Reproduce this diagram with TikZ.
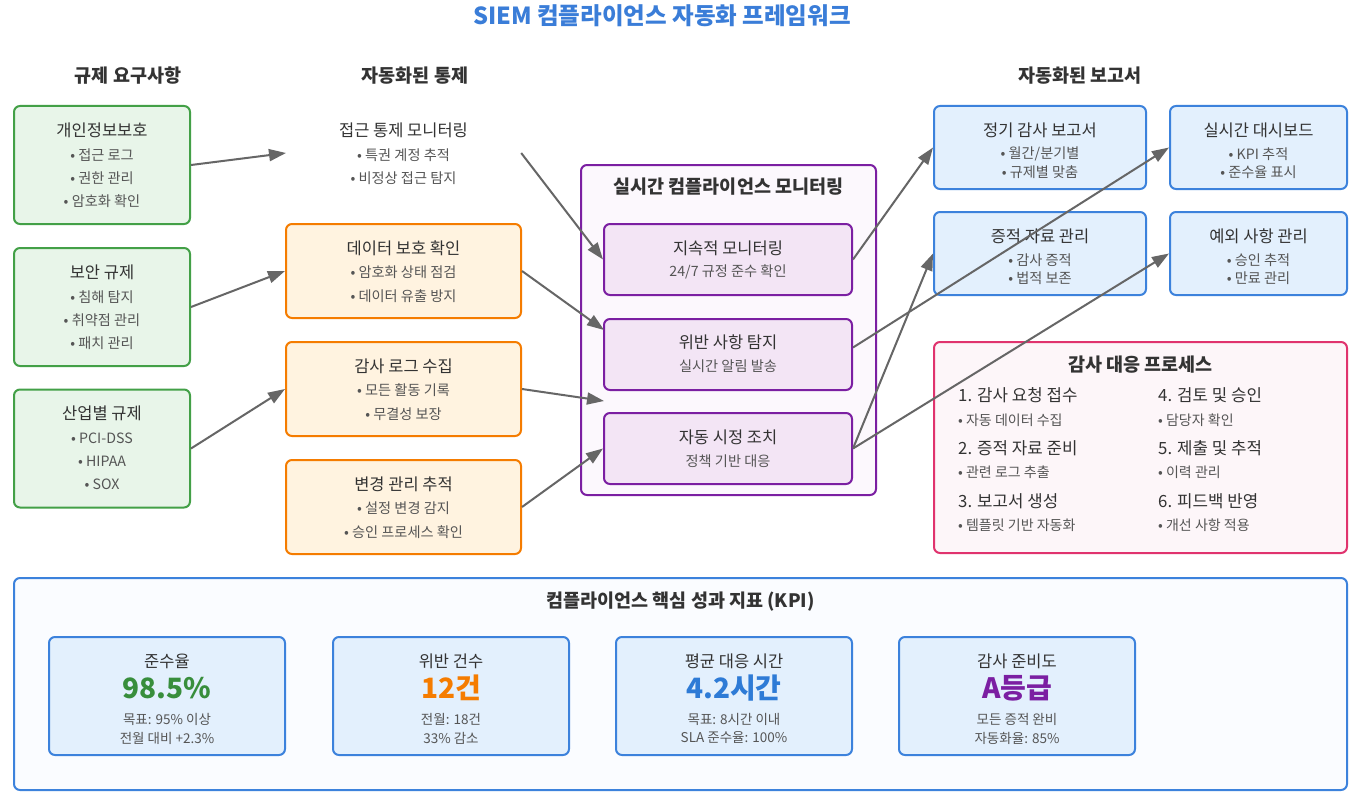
\documentclass[tikz,border=0pt]{standalone}
\usepackage{fontspec}
\setmainfont{Noto Sans CJK KR}
\usetikzlibrary{arrows.meta,calc}
\definecolor{gborder}{HTML}{43A047}
\definecolor{gfill}{HTML}{E8F5E9}
\definecolor{oborder}{HTML}{F57C00}
\definecolor{ofill}{HTML}{FFF3E0}
\definecolor{pborder}{HTML}{7B1FA2}
\definecolor{pfill}{HTML}{F3E5F5}
\definecolor{pouter}{HTML}{FCF8FD}
\definecolor{bborder}{HTML}{3C82DC}
\definecolor{bfill}{HTML}{E3F0FD}
\definecolor{kouter}{HTML}{FAFCFF}
\definecolor{rborder}{HTML}{E0336E}
\definecolor{rfill}{HTML}{FDF6F9}
\definecolor{titleblue}{HTML}{3A7DD8}
\definecolor{txt}{HTML}{333333}
\definecolor{subtxt}{HTML}{555555}
\definecolor{arrowgray}{HTML}{666666}
\definecolor{vgreen}{HTML}{388E3C}
\definecolor{vorange}{HTML}{F57C00}
\definecolor{vblue}{HTML}{2E7BD6}
\definecolor{vpurple}{HTML}{7B1FA2}
\tikzset{
  boxbase/.style={rounded corners=6pt, line width=2pt},
  gbox/.style={boxbase, draw=gborder, fill=gfill, minimum width=176pt, minimum height=118pt},
  obox/.style={boxbase, draw=oborder, fill=ofill, minimum width=235pt, minimum height=94pt},
  pouterbox/.style={boxbase, draw=pborder, fill=pouter, minimum width=295pt, minimum height=330pt},
  pbox/.style={boxbase, draw=pborder, fill=pfill, minimum width=248pt, minimum height=71pt},
  bbox/.style={boxbase, draw=bborder, fill=bfill, minimum height=83pt},
  rbox/.style={boxbase, draw=rborder, fill=rfill, minimum width=413pt, minimum height=211pt},
  kouterbox/.style={boxbase, draw=bborder, fill=kouter, minimum width=1333pt, minimum height=212pt},
  kbox/.style={boxbase, draw=bborder, fill=bfill, minimum width=236pt, minimum height=118pt},
  ttl/.style={text=txt, font=\fontsize{16.5}{18}\selectfont, inner sep=0pt},
  sub/.style={text=subtxt, font=\fontsize{14.2}{16}\selectfont, inner sep=0pt},
  ksub/.style={text=subtxt, font=\fontsize{13.5}{15}\selectfont, inner sep=0pt},
  head/.style={text=txt, font=\fontsize{18.5}{20}\selectfont\bfseries, inner sep=0pt},
  bigttl/.style={text=txt, font=\fontsize{18.5}{20}\selectfont\bfseries, inner sep=0pt},
  step2/.style={text=txt, font=\fontsize{16.8}{18}\selectfont, inner sep=0pt, anchor=west},
  stepsub/.style={text=subtxt, font=\fontsize{14}{16}\selectfont, inner sep=0pt, anchor=west},
  kval/.style={font=\fontsize{28}{30}\selectfont\bfseries, inner sep=0pt},
  arr/.style={draw=arrowgray, line width=2pt, -{Triangle[length=17pt,width=12pt]}},
}
\begin{document}
\begin{tikzpicture}[x=1pt,y=-1pt]
\useasboundingbox[fill=white] (0,0) rectangle (1359,797);

% title
\node[text=titleblue, font=\fontsize{23.5}{25}\selectfont\bfseries, inner sep=0pt] (title) at (662,16) {SIEM 컴플라이언스 자동화 프레임워크};

% column headers
\node[head] (h1) at (128,76) {규제 요구사항};
\node[head] (h2) at (415,76) {자동화된 통제};
\node[head] (h3) at (1080,76) {자동화된 보고서};

% green boxes
\node[gbox] (g1) at (102,165) {};
\node[ttl] (g1t) at (102,130) {개인정보보호};
\node[sub] (g1a) at (102,155) {• 접근 로그};
\node[sub] (g1b) at (102,178) {• 권한 관리};
\node[sub] (g1c) at (102,201) {• 암호화 확인};

\node[gbox] (g2) at (102,307) {};
\node[ttl] (g2t) at (102,272) {보안 규제};
\node[sub] (g2a) at (102,297) {• 침해 탐지};
\node[sub] (g2b) at (102,320) {• 취약점 관리};
\node[sub] (g2c) at (102,343) {• 패치 관리};

\node[gbox] (g3) at (102,448.5) {};
\node[ttl] (g3t) at (102,413) {산업별 규제};
\node[sub] (g3a) at (102,438) {• PCI-DSS};
\node[sub] (g3b) at (102,461) {• HIPAA};
\node[sub] (g3c) at (102,484) {• SOX};

% access control (no box)
\node[minimum width=235pt, minimum height=94pt, inner sep=0pt] (ac) at (403.5,153) {};
\node[ttl] (act) at (403.5,130) {접근 통제 모니터링};
\node[sub] (aca) at (403.5,155) {• 특권 계정 추적};
\node[sub] (acb) at (403.5,178) {• 비정상 접근 탐지};

% orange boxes
\node[obox] (o1) at (403.5,271) {};
\node[ttl] (o1t) at (403.5,248) {데이터 보호 확인};
\node[sub] (o1a) at (403.5,272) {• 암호화 상태 점검};
\node[sub] (o1b) at (403.5,296) {• 데이터 유출 방지};

\node[obox] (o2) at (403.5,389) {};
\node[ttl] (o2t) at (403.5,366) {감사 로그 수집};
\node[sub] (o2a) at (403.5,390) {• 모든 활동 기록};
\node[sub] (o2b) at (403.5,414) {• 무결성 보장};

\node[obox] (o3) at (403.5,507) {};
\node[ttl] (o3t) at (403.5,484) {변경 관리 추적};
\node[sub] (o3a) at (403.5,508) {• 설정 변경 감지};
\node[sub] (o3b) at (403.5,532) {• 승인 프로세스 확인};

% purple monitoring
\node[pouterbox] (pm) at (728.5,330) {};
\node[bigttl] (pmt) at (728.5,187) {실시간 컴플라이언스 모니터링};
\node[pbox] (p1) at (728,259.5) {};
\node[ttl] (p1t) at (728,248) {지속적 모니터링};
\node[sub] (p1s) at (728,272) {24/7 규정 준수 확인};
\node[pbox] (p2) at (728,354.5) {};
\node[ttl] (p2t) at (728,342) {위반 사항 탐지};
\node[sub] (p2s) at (728,366) {실시간 알림 발송};
\node[pbox] (p3) at (728,448.5) {};
\node[ttl] (p3t) at (728,437) {자동 시정 조치};
\node[sub] (p3s) at (728,461) {정책 기반 대응};

% blue report boxes
\node[bbox, minimum width=212pt] (r1) at (1040,147.5) {};
\node[ttl] (r1t) at (1040,130) {정기 감사 보고서};
\node[sub] (r1a) at (1040,154) {• 월간/분기별};
\node[sub] (r1b) at (1040,172) {• 규제별 맞춤};

\node[bbox, minimum width=177pt] (r2) at (1258.5,147.5) {};
\node[ttl] (r2t) at (1258.5,130) {실시간 대시보드};
\node[sub] (r2a) at (1258.5,154) {• KPI 추적};
\node[sub] (r2b) at (1258.5,172) {• 준수율 표시};

\node[bbox, minimum width=212pt] (r3) at (1040,253.5) {};
\node[ttl] (r3t) at (1040,236) {증적 자료 관리};
\node[sub] (r3a) at (1040,260) {• 감사 증적};
\node[sub] (r3b) at (1040,278) {• 법적 보존};

\node[bbox, minimum width=177pt] (r4) at (1258.5,253.5) {};
\node[ttl] (r4t) at (1258.5,236) {예외 사항 관리};
\node[sub] (r4a) at (1258.5,260) {• 승인 추적};
\node[sub] (r4b) at (1258.5,278) {• 만료 관리};

% audit response process
\node[rbox] (ar) at (1140.5,447.5) {};
\node[bigttl] (art) at (1140.5,365) {감사 대응 프로세스};
\node[step2] (s1) at (958,395) {1. 감사 요청 접수};
\node[stepsub] (s1a) at (958,420) {• 자동 데이터 수집};
\node[step2] (s2) at (958,448) {2. 증적 자료 준비};
\node[stepsub] (s2a) at (958,472) {• 관련 로그 추출};
\node[step2] (s3) at (958,501) {3. 보고서 생성};
\node[stepsub] (s3a) at (958,525) {• 템플릿 기반 자동화};
\node[step2] (s4) at (1158,395) {4. 검토 및 승인};
\node[stepsub] (s4a) at (1158,420) {• 담당자 확인};
\node[step2] (s5) at (1158,448) {5. 제출 및 추적};
\node[stepsub] (s5a) at (1158,472) {• 이력 관리};
\node[step2] (s6) at (1158,501) {6. 피드백 반영};
\node[stepsub] (s6a) at (1158,525) {• 개선 사항 적용};

% KPI
\node[kouterbox] (kp) at (680.5,684) {};
\node[bigttl] (kpt) at (680.5,602) {컴플라이언스 핵심 성과 지표 (KPI)};

\node[kbox] (k1) at (167,696) {};
\node[ttl] (k1t) at (167,661) {준수율};
\node[kval, text=vgreen] (k1v) at (167,688) {98.5\%};
\node[ksub] (k1a) at (167,719) {목표: 95\% 이상};
\node[ksub] (k1b) at (167,738) {전월 대비 +2.3\%};

\node[kbox] (k2) at (451,696) {};
\node[ttl] (k2t) at (451,661) {위반 건수};
\node[kval, text=vorange] (k2v) at (451,688) {12건};
\node[ksub] (k2a) at (451,719) {전월: 18건};
\node[ksub] (k2b) at (451,738) {33\% 감소};

\node[kbox] (k3) at (734,696) {};
\node[ttl] (k3t) at (734,661) {평균 대응 시간};
\node[kval, text=vblue] (k3v) at (734,688) {4.2시간};
\node[ksub] (k3a) at (734,719) {목표: 8시간 이내};
\node[ksub] (k3b) at (734,738) {SLA 준수율: 100\%};

\node[kbox] (k4) at (1017,696) {};
\node[ttl] (k4t) at (1017,661) {감사 준비도};
\node[kval, text=vpurple] (k4v) at (1017,688) {A등급};
\node[ksub] (k4a) at (1017,719) {모든 증적 완비};
\node[ksub] (k4b) at (1017,738) {자동화율: 85\%};

% free arrow ends
\coordinate (acin) at (286,153);
\coordinate (p2in) at (604,330);
\coordinate (gapin) at (604,401);

% arrows
\draw[arr] (g1.east) -- (acin);
\draw[arr] (g2.east) -- (o1.west);
\draw[arr] (g3.east) -- (o2.west);
\draw[arr] (ac.east) -- (p1.west);
\draw[arr] (o1.east) -- (p2in);
\draw[arr] (o2.east) -- (gapin);
\draw[arr] (o3.east) -- (p3.west);
\draw[arr] (p1.east) -- (r1.west);
\draw[arr] ($(p2.east)+(0,-7)$) -- (r2.west);
\draw[arr] (p3.east) -- (r3.west);
\draw[arr] (p3.east) -- (r4.west);
\end{tikzpicture}
\end{document}
